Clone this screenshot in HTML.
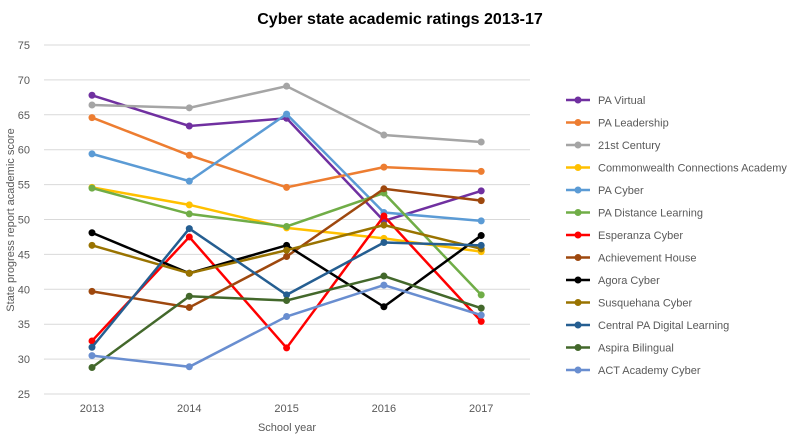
<!DOCTYPE html>
<html><head><meta charset="utf-8"><style>
body{margin:0;background:#fff;font-family:"Liberation Sans",sans-serif}
svg text{font-family:"Liberation Sans",sans-serif;fill:#595959}
</style></head><body>
<svg id="c" width="800" height="437">
<text x="400" y="24" text-anchor="middle" font-size="16" font-weight="bold" style="fill:#000">Cyber state academic ratings 2013-17</text>
<text transform="translate(14,220) rotate(-90)" text-anchor="middle" font-size="11">State progress report academic score</text>
<text x="287" y="431" text-anchor="middle" font-size="11">School year</text>
<g id="grid"></g><g id="series"></g><g id="legend"></g>
</svg>
<script>
const years=["2013","2014","2015","2016","2017"];
const yTicks=[25,30,35,40,45,50,55,60,65,70,75];
const names=["PA Virtual","PA Leadership","21st Century","Commonwealth Connections Academy","PA Cyber","PA Distance Learning","Esperanza Cyber","Achievement House","Agora Cyber","Susquehana Cyber","Central PA Digital Learning","Aspira Bilingual","ACT Academy Cyber"];
const colors=["#7030A0","#ED7D31","#A5A5A5","#FFC000","#5B9BD5","#70AD47","#FF0000","#9E480E","#000000","#997300","#255E91","#43682B","#698ED0"];
const sPAVirtual=[67.8,63.4,64.5,49.8,54.1];
const sPALeadership=[64.6,59.2,54.6,57.5,56.9];
const s21st=[66.4,66.0,69.1,62.1,61.1];
const sCommonwealth=[54.6,52.1,48.8,47.3,45.4];
const sPACyber=[59.4,55.5,65.1,51.0,49.8];
const sPADistance=[54.5,50.8,49.0,53.8,39.2];
const sEsperanza=[32.6,47.5,31.6,50.5,35.4];
const sAchievement=[39.7,37.4,44.7,54.4,52.7];
const sAgora=[48.1,42.3,46.3,37.5,47.7];
const sSusquehana=[46.3,42.3,45.6,49.2,45.8];
const sCentralPA=[31.7,48.7,39.2,46.7,46.3];
const sAspira=[28.8,39.0,38.4,41.9,37.3];
const sACT=[30.5,28.9,36.1,40.6,36.3];
const series=[sPAVirtual,sPALeadership,s21st,sCommonwealth,sPACyber,sPADistance,sEsperanza,sAchievement,sAgora,sSusquehana,sCentralPA,sAspira,sACT];
const NS="http://www.w3.org/2000/svg";
const y=v=>394-(v-25)*(349/50);
const x=i=>92+i*97.3;
function mk(t,a,p){const e=document.createElementNS(NS,t);for(const k in a)e.setAttribute(k,a[k]);p.appendChild(e);return e;}
const g=document.getElementById('grid');
yTicks.forEach(v=>{
 const l=mk('line',{x1:44,x2:530,y1:y(v),y2:y(v),stroke:"#d9d9d9","stroke-width":1},g);
 
 
 const t=mk('text',{x:30,y:y(v)+4,"text-anchor":"end","font-size":11},g);t.textContent=v;
 
 
});
years.forEach((yr,i)=>{
 const t=mk('text',{x:x(i),y:412,"text-anchor":"middle","font-size":11},g);t.textContent=yr;
 
 
});
const sg=document.getElementById('series'),lg=document.getElementById('legend');
series.forEach((s,k)=>{
 const c=colors[k];
 const p=mk('polyline',{points:s.map((v,i)=>x(i)+','+y(v)).join(' '),fill:"none",stroke:c,"stroke-width":2.5},sg);
 
 
 s.forEach((v,i)=>{const d=mk('circle',{cx:x(i),cy:y(v),r:3.5,fill:c},sg);
  
  });
 const ly=100+k*22.5;
 const lg1=mk('g',{},lg);
 
 
 mk('line',{x1:566,x2:590,y1:ly,y2:ly,stroke:c,"stroke-width":2.5},lg1);
 mk('circle',{cx:578,cy:ly,r:3.5,fill:c},lg1);
 const t=mk('text',{x:598,y:ly+4,"font-size":11},lg1);t.textContent=names[k];
});
</script>
</body></html>
